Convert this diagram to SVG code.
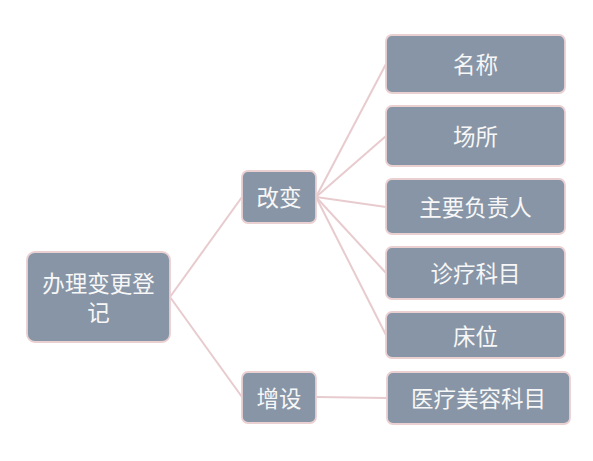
<svg xmlns="http://www.w3.org/2000/svg" width="593" height="461" viewBox="0 0 593 461">
<style>
.box{fill:#8795A6;stroke:#EBD0D2;stroke-width:1.8}
.t{fill:#F7F7F7;font-family:"Noto Sans CJK SC","Noto Sans CJK JP",sans-serif;font-size:22.5px;text-anchor:middle;dominant-baseline:central}
.c{stroke:#E8CBCE;stroke-width:2;fill:none}
</style>
<rect width="593" height="461" fill="#FFFFFF"/>
<g id="connectors">
<line class="c" x1="170" y1="297" x2="242" y2="197"/>
<line class="c" x1="170" y1="297" x2="242" y2="397"/>
<line class="c" x1="316" y1="197" x2="386" y2="64"/>
<line class="c" x1="316" y1="197" x2="386" y2="136"/>
<line class="c" x1="316" y1="197" x2="386" y2="207"/>
<line class="c" x1="316" y1="197" x2="386" y2="273"/>
<line class="c" x1="316" y1="197" x2="386" y2="335"/>
<line class="c" x1="316" y1="397" x2="387" y2="398"/>
</g>
<g id="root">
<rect class="box" x="27" y="252" width="143" height="90" rx="8"/>
<text class="t" x="98.5" y="281.5">办理变更登</text>
<text class="t" x="98.5" y="311">记</text>
</g>
<g id="change">
<rect class="box" x="242" y="171" width="74" height="52" rx="6"/>
<text class="t" x="279" y="196">改变</text>
</g>
<g id="add">
<rect class="box" x="242" y="372" width="74" height="51" rx="6"/>
<text class="t" x="279" y="397">增设</text>
</g>
<g id="name">
<rect class="box" x="386" y="35" width="179" height="58" rx="6"/>
<text class="t" x="475.5" y="63">名称</text>
</g>
<g id="place">
<rect class="box" x="386" y="106" width="179" height="60" rx="6"/>
<text class="t" x="475.5" y="135">场所</text>
</g>
<g id="leader">
<rect class="box" x="386" y="179" width="179" height="55" rx="6"/>
<text class="t" x="475.5" y="206">主要负责人</text>
</g>
<g id="dept">
<rect class="box" x="386" y="247" width="179" height="52" rx="6"/>
<text class="t" x="475.5" y="272">诊疗科目</text>
</g>
<g id="bed">
<rect class="box" x="386" y="312" width="179" height="46" rx="6"/>
<text class="t" x="475.5" y="335">床位</text>
</g>
<g id="beauty">
<rect class="box" x="387" y="372" width="183" height="52" rx="6"/>
<text class="t" x="478.5" y="397">医疗美容科目</text>
</g>
</svg>
